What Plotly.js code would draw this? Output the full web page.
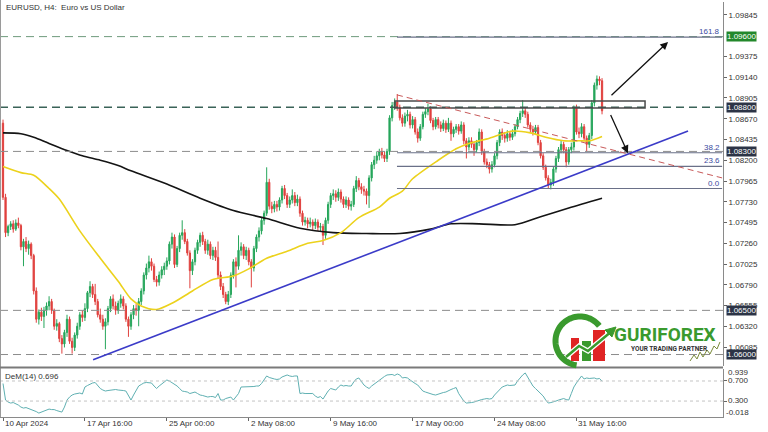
<!DOCTYPE html>
<html><head><meta charset="utf-8">
<script src="https://cdn.plot.ly/plotly-3.0.1.min.js"></script>
<style>html,body{margin:0;padding:0;background:#fff}#chart{width:768px;height:432px}</style>
</head><body><div id="chart"></div>
<script>
// ---------- data (H4 bars, index 0 = 10 Apr 2024 08:00) ----------
const barOpen = [
1.0862,1.0778,1.0738,1.0745,1.0748,1.0742,1.0749,1.0746,1.0722,1.0728,
1.0720,1.0725,1.0712,1.0672,1.0640,1.0648,1.0643,1.0650,1.0655,1.0660,
1.0650,1.0632,1.0635,1.0618,1.0612,1.0625,1.0640,1.0615,1.0608,1.0622,
1.0632,1.0645,1.0642,1.0652,1.0670,1.0677,1.0668,1.0660,1.0645,1.0640,
1.0632,1.0637,1.0652,1.0663,1.0655,1.0650,1.0658,1.0663,1.0655,1.0640,
1.0632,1.0645,1.0652,1.0650,1.0660,1.0672,1.0690,1.0698,1.0705,1.0700,
1.0685,1.0682,1.0690,1.0696,1.0700,1.0706,1.0725,1.0733,1.0702,1.0720,
1.0735,1.0738,1.0728,1.0715,1.0695,1.0705,1.0718,1.0727,1.0735,1.0728,
1.0718,1.0725,1.0712,1.0718,1.0710,1.0690,1.0677,1.0668,1.0660,1.0668,
1.0690,1.0705,1.0700,1.0718,1.0722,1.0712,1.0718,1.0705,1.0698,1.0720,
1.0733,1.0740,1.0752,1.0760,1.0795,1.0768,1.0765,1.0770,1.0767,1.0775,
1.0788,1.0780,1.0770,1.0775,1.0780,1.0772,1.0776,1.0760,1.0750,1.0752,
1.0748,1.0750,1.0746,1.0750,1.0744,1.0745,1.0735,1.0752,1.0770,1.0780,
1.0782,1.0778,1.0784,1.0776,1.0770,1.0775,1.0768,1.0770,1.0788,1.0797,
1.0790,1.0787,1.0785,1.0780,1.0800,1.0815,1.0820,1.0825,1.0830,1.0826,
1.0822,1.0830,1.0868,1.0882,1.0886,1.0880,1.0868,1.0862,1.0870,1.0872,
1.0860,1.0866,1.0852,1.0845,1.0858,1.0872,1.0875,1.0878,1.0865,1.0858,
1.0866,1.0860,1.0856,1.0862,1.0855,1.0862,1.0850,1.0855,1.0858,1.0853,
1.0860,1.0842,1.0835,1.0842,1.0838,1.0832,1.0840,1.0852,1.0830,1.0818,
1.0815,1.0810,1.0815,1.0825,1.0840,1.0852,1.0848,1.0845,1.0850,1.0846,
1.0850,1.0858,1.0866,1.0873,1.0876,1.0872,1.0860,1.0855,1.0852,1.0857,
1.0840,1.0825,1.0812,1.0800,1.0792,1.0795,1.0810,1.0822,1.0832,1.0838,
1.0832,1.0818,1.0832,1.0835,1.0880,1.0852,1.0850,1.0858,1.0845,1.0838,
1.0848,1.0885,1.0905,1.0912,1.0910];
const barHigh = [
1.0866,1.0782,1.0747,1.0751,1.0752,1.0753,1.0755,1.0748,1.0731,1.0733,
1.0729,1.0727,1.0714,1.0676,1.0651,1.0653,1.0654,1.0659,1.0666,1.0663,
1.0652,1.0640,1.0637,1.0622,1.0628,1.0645,1.0643,1.0619,1.0625,1.0636,
1.0648,1.0650,1.0658,1.0672,1.0683,1.0680,1.0680,1.0663,1.0652,1.0645,
1.0641,1.0655,1.0666,1.0668,1.0660,1.0661,1.0668,1.0666,1.0658,1.0643,
1.0648,1.0656,1.0657,1.0664,1.0675,1.0693,1.0703,1.0712,1.0709,1.0703,
1.0689,1.0694,1.0700,1.0704,1.0710,1.0728,1.0738,1.0736,1.0723,1.0738,
1.0752,1.0742,1.0731,1.0718,1.0708,1.0721,1.0730,1.0738,1.0739,1.0731,
1.0730,1.0728,1.0722,1.0722,1.0728,1.0694,1.0681,1.0671,1.0672,1.0693,
1.0708,1.0710,1.0735,1.0727,1.0725,1.0722,1.0721,1.0708,1.0723,1.0736,
1.0744,1.0755,1.0763,1.0812,1.0799,1.0773,1.0774,1.0774,1.0778,1.0791,
1.0792,1.0783,1.0779,1.0787,1.0784,1.0781,1.0779,1.0763,1.0756,1.0755,
1.0755,1.0753,1.0754,1.0753,1.0749,1.0748,1.0755,1.0773,1.0783,1.0787,
1.0786,1.0788,1.0787,1.0779,1.0779,1.0778,1.0774,1.0791,1.0802,1.0800,
1.0794,1.0791,1.0788,1.0803,1.0818,1.0825,1.0830,1.0833,1.0834,1.0830,
1.0833,1.0871,1.0886,1.0890,1.0895,1.0883,1.0872,1.0874,1.0877,1.0875,
1.0870,1.0869,1.0856,1.0861,1.0875,1.0879,1.0884,1.0881,1.0868,1.0869,
1.0869,1.0864,1.0866,1.0865,1.0868,1.0865,1.0858,1.0861,1.0861,1.0864,
1.0863,1.0845,1.0846,1.0846,1.0841,1.0843,1.0856,1.0855,1.0833,1.0822,
1.0818,1.0819,1.0828,1.0843,1.0855,1.0856,1.0852,1.0854,1.0853,1.0855,
1.0861,1.0869,1.0876,1.0888,1.0880,1.0875,1.0863,1.0859,1.0860,1.0860,
1.0843,1.0828,1.0815,1.0803,1.0799,1.0813,1.0825,1.0835,1.0842,1.0841,
1.0835,1.0835,1.0840,1.0882,1.0883,1.0857,1.0862,1.0861,1.0848,1.0851,
1.0888,1.0908,1.0916,1.0915,1.0913];
const barLow = [
1.0775,1.0733,1.0734,1.0741,1.0738,1.0740,1.0743,1.0718,1.0700,1.0716,
1.0713,1.0708,1.0668,1.0636,1.0634,1.0638,1.0630,1.0644,1.0650,1.0646,
1.0628,1.0627,1.0614,1.0601,1.0608,1.0620,1.0612,1.0601,1.0604,1.0618,
1.0628,1.0637,1.0638,1.0648,1.0665,1.0664,1.0656,1.0642,1.0636,1.0628,
1.0606,1.0633,1.0648,1.0651,1.0645,1.0646,1.0653,1.0651,1.0637,1.0620,
1.0628,1.0640,1.0644,1.0632,1.0656,1.0668,1.0685,1.0693,1.0695,1.0682,
1.0677,1.0678,1.0686,1.0690,1.0696,1.0702,1.0720,1.0698,1.0699,1.0716,
1.0730,1.0725,1.0712,1.0675,1.0690,1.0701,1.0714,1.0722,1.0724,1.0714,
1.0713,1.0708,1.0707,1.0706,1.0686,1.0673,1.0664,1.0657,1.0656,1.0664,
1.0686,1.0676,1.0696,1.0712,1.0708,1.0707,1.0701,1.0676,1.0694,1.0716,
1.0728,1.0736,1.0747,1.0757,1.0764,1.0760,1.0761,1.0762,1.0763,1.0771,
1.0776,1.0766,1.0766,1.0771,1.0768,1.0768,1.0756,1.0746,1.0746,1.0743,
1.0744,1.0741,1.0742,1.0740,1.0739,1.0724,1.0731,1.0748,1.0766,1.0775,
1.0773,1.0774,1.0772,1.0766,1.0766,1.0764,1.0763,1.0767,1.0784,1.0786,
1.0782,1.0780,1.0770,1.0766,1.0796,1.0810,1.0816,1.0820,1.0822,1.0818,
1.0818,1.0826,1.0864,1.0877,1.0876,1.0865,1.0858,1.0858,1.0864,1.0856,
1.0856,1.0849,1.0840,1.0842,1.0855,1.0868,1.0871,1.0862,1.0854,1.0855,
1.0856,1.0852,1.0853,1.0851,1.0852,1.0842,1.0846,1.0851,1.0849,1.0850,
1.0838,1.0822,1.0831,1.0834,1.0825,1.0829,1.0836,1.0826,1.0815,1.0811,
1.0805,1.0806,1.0812,1.0821,1.0836,1.0843,1.0840,1.0841,1.0842,1.0843,
1.0847,1.0855,1.0862,1.0869,1.0868,1.0857,1.0852,1.0848,1.0849,1.0837,
1.0822,1.0809,1.0797,1.0788,1.0787,1.0791,1.0806,1.0818,1.0828,1.0828,
1.0812,1.0815,1.0828,1.0831,1.0849,1.0845,1.0846,1.0842,1.0830,1.0834,
1.0844,1.0881,1.0900,1.0905,1.0872];
const barClose = [
1.0778,1.0738,1.0745,1.0748,1.0742,1.0749,1.0746,1.0722,1.0728,1.0720,
1.0725,1.0712,1.0672,1.0640,1.0648,1.0643,1.0650,1.0655,1.0660,1.0650,
1.0632,1.0635,1.0618,1.0612,1.0625,1.0640,1.0615,1.0608,1.0622,1.0632,
1.0645,1.0642,1.0652,1.0670,1.0677,1.0668,1.0660,1.0645,1.0640,1.0632,
1.0637,1.0652,1.0663,1.0655,1.0650,1.0658,1.0663,1.0655,1.0640,1.0632,
1.0645,1.0652,1.0650,1.0660,1.0672,1.0690,1.0698,1.0705,1.0700,1.0685,
1.0682,1.0690,1.0696,1.0700,1.0706,1.0725,1.0733,1.0702,1.0720,1.0735,
1.0738,1.0728,1.0715,1.0695,1.0705,1.0718,1.0727,1.0735,1.0728,1.0718,
1.0725,1.0712,1.0718,1.0710,1.0690,1.0677,1.0668,1.0660,1.0668,1.0690,
1.0705,1.0700,1.0718,1.0722,1.0712,1.0718,1.0705,1.0698,1.0720,1.0733,
1.0740,1.0752,1.0760,1.0795,1.0768,1.0765,1.0770,1.0767,1.0775,1.0788,
1.0780,1.0770,1.0775,1.0780,1.0772,1.0776,1.0760,1.0750,1.0752,1.0748,
1.0750,1.0746,1.0750,1.0744,1.0745,1.0735,1.0752,1.0770,1.0780,1.0782,
1.0778,1.0784,1.0776,1.0770,1.0775,1.0768,1.0770,1.0788,1.0797,1.0790,
1.0787,1.0785,1.0780,1.0800,1.0815,1.0820,1.0825,1.0830,1.0826,1.0822,
1.0830,1.0868,1.0882,1.0886,1.0880,1.0868,1.0862,1.0870,1.0872,1.0860,
1.0866,1.0852,1.0845,1.0858,1.0872,1.0875,1.0878,1.0865,1.0858,1.0866,
1.0860,1.0856,1.0862,1.0855,1.0862,1.0850,1.0855,1.0858,1.0853,1.0860,
1.0842,1.0835,1.0842,1.0838,1.0832,1.0840,1.0852,1.0830,1.0818,1.0815,
1.0810,1.0815,1.0825,1.0840,1.0852,1.0848,1.0845,1.0850,1.0846,1.0850,
1.0858,1.0866,1.0873,1.0876,1.0872,1.0860,1.0855,1.0852,1.0857,1.0840,
1.0825,1.0812,1.0800,1.0792,1.0795,1.0810,1.0822,1.0832,1.0838,1.0832,
1.0818,1.0832,1.0835,1.0880,1.0852,1.0850,1.0858,1.0845,1.0838,1.0848,
1.0885,1.0905,1.0912,1.0910,1.0876];
const demValues = [
.65,.32,.28,.26,.27,.25,.22,.18,.16,.17,
.15,.14,.12,.09,.06,.08,.10,.12,.14,.13,
.13,.11,.10,.08,.18,.32,.38,.42,.44,.45,
.46,.44,.58,.61,.64,.66,.67,.60,.55,.52,
.50,.51,.52,.52,.53,.52,.52,.51,.50,.40,
.32,.42,.52,.60,.63,.66,.67,.67,.66,.60,
.55,.60,.64,.68,.72,.70,.67,.63,.60,.55,
.50,.49,.48,.45,.47,.48,.45,.42,.41,.39,
.38,.39,.39,.37,.45,.32,.32,.35,.36,.38,
.32,.38,.45,.58,.58,.59,.59,.58,.59,.60,
.60,.65,.72,.80,.77,.75,.74,.73,.74,.78,
.80,.82,.80,.79,.80,.80,.45,.46,.45,.45,
.44,.45,.40,.37,.39,.34,.42,.50,.55,.53,
.52,.58,.62,.60,.61,.60,.60,.68,.74,.76,
.68,.62,.58,.55,.60,.64,.68,.72,.76,.79,
.82,.83,.83,.81,.84,.82,.76,.77,.76,.72,
.68,.65,.62,.56,.50,.48,.46,.45,.43,.42,
.44,.45,.47,.48,.51,.53,.55,.57,.45,.38,
.30,.26,.26,.27,.28,.30,.32,.33,.34,.35,
.34,.35,.42,.48,.54,.58,.60,.62,.61,.62,
.62,.70,.77,.82,.86,.77,.68,.60,.55,.50,
.45,.40,.32,.26,.27,.28,.30,.32,.34,.35,
.33,.32,.45,.58,.66,.74,.80,.74,.76,.75,
.76,.76,.74,.75,.696];
const maFastIdx = [0,7,12,18,22,30,38,45,50,54,60,66,74,82,90,96,103,111,119,125,132,139,147,151,156,160,170,177,182,190,199,206,212,219,225,229,234];
const maFastVal = [1.0813,1.0806,1.0803,1.0788,1.0776,1.0740,1.0709,1.0683,1.0663,1.0655,1.0651,1.0658,1.0672,1.0685,1.0689,1.0697,1.0709,1.0717,1.0726,1.0729,1.0738,1.0755,1.0767,1.0777,1.0785,1.0799,1.0820,1.0833,1.0839,1.0845,1.0853,1.0851,1.0846,1.0842,1.0842,1.0842,1.0847];
const maSlowIdx = [0,7,12,18,25,31,38,45,50,64,77,90,103,116,129,142,155,167,175,186,200,210,221,234];
const maSlowVal = [1.0851,1.0850,1.0846,1.0839,1.0831,1.0825,1.0820,1.0814,1.0808,1.0793,1.0777,1.0763,1.0754,1.0743,1.0738,1.0737,1.0737,1.0742,1.0748,1.0748,1.0747,1.0756,1.0766,1.0777];
const timeTickIdx = [0,32,64,96,128,160,192,224];
const timeTickLabels = ['10 Apr 2024','17 Apr 16:00','25 Apr 00:00','2 May 08:00','9 May 16:00','17 May 00:00','24 May 08:00','31 May 16:00'];
const priceTicks = [1.09845,1.09375,1.09140,1.08905,1.08670,1.08435,1.08200,1.07965,1.07730,1.07495,1.07260,1.07025,1.06790,1.06555,1.06320,1.06085];
const levelPrices = [1.09600,1.08800,1.08300,1.06500,1.06000];
const levelTagColors = ['#23882b','#2c3446','#2c3446','#2c3446','#2c3446'];
const levelLineColors = ['#6f9a7c','#3a6358','#8c8c8c','#8c8c8c','#8c8c8c'];
const fibLevels = [0, 23.6, 38.2, 161.8];
const fibLabels = ['0.0','23.6','38.2','161.8'];
const fibLowPrice = 1.0788, fibHighPrice = 1.0894, fibStartIdx = 153.9, fibEndIdx = 280.9;
const supportIdx = [35.2, 267.6], supportPrice = [1.0594, 1.0853];
const resistIdx = [153.9, 280.9], resistPrice = [1.0894, 1.0800];
const boxIdx = [153.1, 250.8], boxPrice = [1.08792, 1.08871];
const demLevels = [0.7, 0.3];
const demAxisLabels = ['0.939','0.700','0.300','-0.018'];
const demLast = '0.696';

// ---------- layout geometry (plot area 723 x 417 px) ----------
const PW = 723, PH = 417;
const X = px => px / PW;
const Y = py => 1 - py / PH;
const idx = barOpen.map((_, i) => i);

const traces = [
  {type:'candlestick', x: idx, open: barOpen, high: barHigh, low: barLow, close: barClose,
   xaxis:'x', yaxis:'y', hoverinfo:'skip',
   increasing:{line:{color:'#26a65b', width:1}, fillcolor:'#26a65b'},
   decreasing:{line:{color:'#e0413e', width:1}, fillcolor:'#e0413e'}, whiskerwidth:0},
  {type:'scatter', mode:'lines', x: maSlowIdx, y: maSlowVal, xaxis:'x', yaxis:'y',
   line:{color:'#141414', width:1.6, shape:'spline', smoothing:0.8}, hoverinfo:'skip'},
  {type:'scatter', mode:'lines', x: maFastIdx, y: maFastVal, xaxis:'x', yaxis:'y',
   line:{color:'#ecd21c', width:1.6, shape:'spline', smoothing:0.8}, hoverinfo:'skip'},
  {type:'scatter', mode:'lines', x: idx, y: demValues, xaxis:'x', yaxis:'y2',
   line:{color:'#5fb0b2', width:1}, hoverinfo:'skip'}
];

const shapes = [];
const annotations = [];
const dashPat = '8px,5px';

// horizontal levels
levelPrices.forEach((p, k) => {
  shapes.push({type:'line', xref:'paper', yref:'y', x0:0, x1:1, y0:p, y1:p,
    line:{color:levelLineColors[k], width: k===1 ? 1.4 : 1, dash: dashPat}});
  annotations.push({xref:'paper', yref:'y', x: X(726), y: p, xanchor:'left', yanchor:'middle',
    text: p.toFixed(5), showarrow:false, bgcolor: levelTagColors[k], borderpad:0,
    font:{family:'Liberation Sans, Arial, sans-serif', size:8, color:'#ffffff'}});
});
// fibonacci
fibLevels.forEach((lv, k) => {
  const p = fibLowPrice + (fibHighPrice - fibLowPrice) * lv / 100;
  shapes.push({type:'line', xref:'x', yref:'y', x0:fibStartIdx, x1:fibEndIdx, y0:p, y1:p,
    line:{color:'#6a7088', width:1.2}});
  annotations.push({xref:'paper', yref:'y', x: X(722), y: p, xanchor:'right', yanchor:'bottom',
    text: fibLabels[k], showarrow:false, yshift:-1,
    font:{family:'Liberation Sans, Arial, sans-serif', size:8, color:'#3a4aa0'}});
});
// box
shapes.push({type:'rect', xref:'x', yref:'y', x0:boxIdx[0], x1:boxIdx[1], y0:boxPrice[0], y1:boxPrice[1],
  line:{color:'#4a4a4a', width:1.5}, fillcolor:'rgba(0,0,0,0)'});
// trendlines
shapes.push({type:'line', xref:'x', yref:'y', x0:supportIdx[0], x1:supportIdx[1], y0:supportPrice[0], y1:supportPrice[1],
  line:{color:'#3b3bc8', width:1.6}});
shapes.push({type:'line', xref:'x', yref:'y', x0:resistIdx[0], x1:resistIdx[1], y0:resistPrice[0], y1:resistPrice[1],
  line:{color:'#c85a5a', width:1, dash:'6px,4px'}});
// arrows
annotations.push({xref:'x', yref:'y', axref:'x', ayref:'y', x:259.8, y:1.0954, ax:237.1, ay:1.0892,
  showarrow:true, arrowhead:2, arrowsize:1.2, arrowwidth:1.3, arrowcolor:'#111', text:''});
annotations.push({xref:'x', yref:'y', axref:'x', ayref:'y', x:244.1, y:1.0828, ax:237.1, ay:1.0873,
  showarrow:true, arrowhead:2, arrowsize:1.2, arrowwidth:1.3, arrowcolor:'#111', text:''});

// DeM levels
demLevels.forEach(v => shapes.push({type:'line', xref:'paper', yref:'y2', x0:0, x1:1, y0:v, y1:v,
  line:{color:'#c4c4c4', width:1, dash:'3px,3px'}}));
// frames
shapes.push({type:'line', xref:'paper', yref:'paper', x0:X(0.5), x1:X(0.5), y0:0, y1:1, line:{color:'#9a9a9a', width:1}});
shapes.push({type:'line', xref:'paper', yref:'paper', x0:0, x1:1, y0:Y(367.5), y1:Y(367.5), line:{color:'#7a7a7a', width:2}});

// axis text
const fnt = {family:'Liberation Sans, Arial, sans-serif', size:8, color:'#333333'};
annotations.push({xref:'paper', yref:'paper', x:X(4), y:Y(7), xanchor:'left', yanchor:'middle',
  text:'EURUSD, H4:  Euro vs US Dollar', showarrow:false, font:fnt});
annotations.push({xref:'paper', yref:'paper', x:X(3), y:Y(376), xanchor:'left', yanchor:'middle',
  text:'DeM(14) ' + demLast, showarrow:false, font:fnt});
timeTickIdx.forEach((t, k) => annotations.push({xref:'x', yref:'paper', x:t, y:Y(423.5), xanchor:'left', yanchor:'middle',
  xshift:0, text:timeTickLabels[k], showarrow:false, font:fnt}));
const demLabelPy = [372, 380.5, 400.5, 412];
demAxisLabels.forEach((t, k) => annotations.push({xref:'paper', yref:'paper', x:X(k===3?724:726), y:Y(demLabelPy[k]),
  xanchor:'left', yanchor:'middle', text:t, showarrow:false, font:fnt}));

// ---------- logo ----------
const green = '#3a9a2e';
(function(){
  const cx = 580, cy = 341, r = 24.5;
  let d = '';
  for (let a = -38; a >= -262; a -= 4) {
    const rad = a * Math.PI / 180;
    const px = cx + r * Math.cos(rad), py = cy + r * Math.sin(rad);
    d += (d ? ' L ' : 'M ') + X(px).toFixed(5) + ',' + Y(py).toFixed(5);
  }
  shapes.push({type:'path', xref:'paper', yref:'paper', path:d, line:{color:green, width:6}});
  const rect = (x0, y0, x1, y1, c) => shapes.push({type:'rect', xref:'paper', yref:'paper',
    x0:X(x0), x1:X(x1), y0:Y(y1), y1:Y(y0), fillcolor:c, line:{width:0}});
  rect(571, 338, 579, 361, '#e02424');
  rect(582, 341, 591, 361, green);
  rect(593, 330, 605, 361, '#e02424');
  const pts = [[566,357],[579,346],[588,351],[612,331]];
  const pth = pts.map((p, k) => (k ? 'L ' : 'M ') + X(p[0]).toFixed(5) + ',' + Y(p[1]).toFixed(5)).join(' ');
  shapes.push({type:'path', xref:'paper', yref:'paper', path:pth, line:{color:'#ffffff', width:5}});
  shapes.push({type:'path', xref:'paper', yref:'paper', path:pth, line:{color:green, width:2.5}});
  const head = 'M ' + X(616).toFixed(5) + ',' + Y(327).toFixed(5) + ' L ' + X(605).toFixed(5) + ',' + Y(330).toFixed(5) +
    ' L ' + X(612).toFixed(5) + ',' + Y(337).toFixed(5) + ' Z';
  shapes.push({type:'path', xref:'paper', yref:'paper', path:head, fillcolor:green, line:{color:green, width:1}});
  const sig = [[690,361],[694,355],[697,359],[700,352],[703,357],[707,350],[710,354],[714,346],[717,349],[720,342]];
  const sp = sig.map((p, k) => (k ? 'L ' : 'M ') + X(p[0]).toFixed(5) + ',' + Y(p[1]).toFixed(5)).join(' ');
  shapes.push({type:'path', xref:'paper', yref:'paper', path:sp, line:{color:'#7a8a3a', width:1}});
})();
annotations.push({xref:'paper', yref:'paper', x:X(665), y:Y(334), xanchor:'center', yanchor:'middle',
  text:'<b>GURIFOREX</b>', showarrow:false, font:{family:'Liberation Sans Narrow, Roboto, sans-serif', size:19, color:green}});
annotations.push({xref:'paper', yref:'paper', x:X(669), y:Y(349), xanchor:'center', yanchor:'middle',
  text:'<b>YOUR TRADING PARTNER</b>', showarrow:false, font:{family:'Roboto, sans-serif', size:6.5, color:'#333333'}});

const layout = {
  width:768, height:432, margin:{l:0, r:45, t:0, b:15},
  paper_bgcolor:'#ffffff', plot_bgcolor:'#ffffff', showlegend:false, hovermode:false,
  xaxis:{range:[-1.17, 281.25], anchor:'y2', domain:[0,1], showgrid:false, zeroline:false,
    tickvals:timeTickIdx, ticks:'outside', ticklen:3, tickcolor:'#666', showticklabels:false,
    showline:true, linecolor:'#8a8a8a', linewidth:1, rangeslider:{visible:false}, fixedrange:true},
  yaxis:{domain:[Y(366), Y(2)], range:[1.05870, 1.09992], side:'right', anchor:'x',
    showgrid:false, zeroline:false, tickvals:priceTicks, tickformat:'.5f', ticks:'outside', ticklen:3,
    tickcolor:'#666', tickfont:fnt, showline:true, linecolor:'#8a8a8a', linewidth:1, fixedrange:true},
  yaxis2:{domain:[0, Y(369)], range:[-0.018, 0.939], side:'right', anchor:'x',
    showgrid:false, zeroline:false, tickvals:demLevels, ticks:'outside', ticklen:3, tickcolor:'#666',
    showticklabels:false, showline:true, linecolor:'#8a8a8a', linewidth:1, fixedrange:true},
  shapes: shapes, annotations: annotations
};
Plotly.newPlot('chart', traces, layout, {staticPlot:true, displayModeBar:false});
</script></body></html>
